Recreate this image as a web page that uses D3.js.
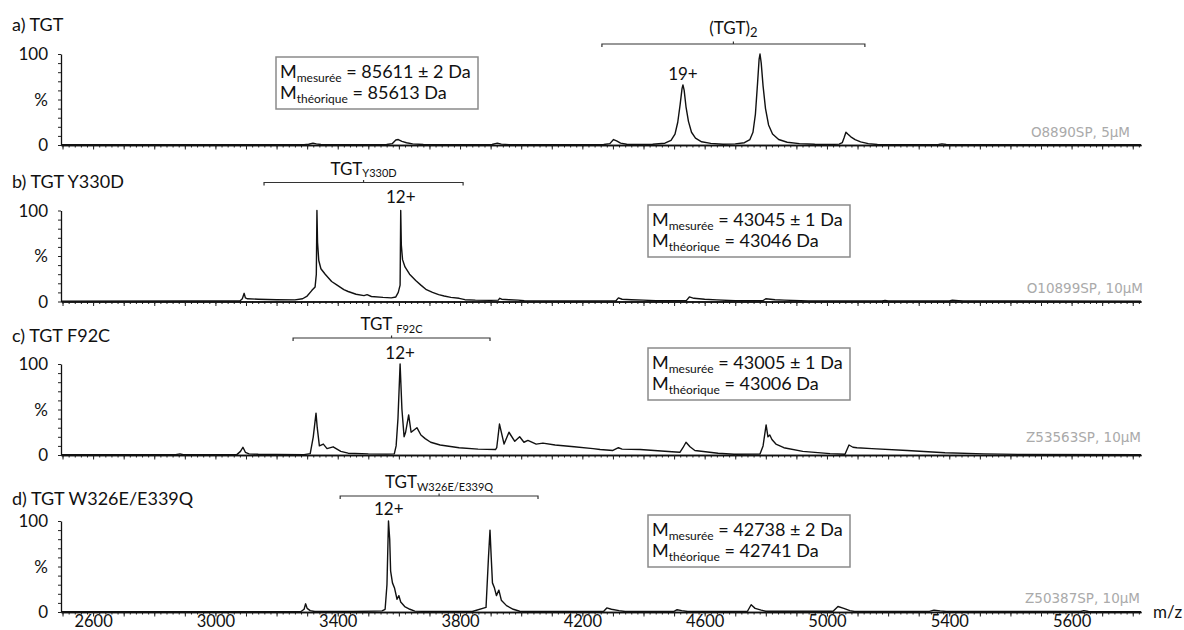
<!DOCTYPE html>
<html><head><meta charset="utf-8">
<script src="https://cdn.jsdelivr.net/npm/d3@7"></script>
<style>body{margin:0;background:#fff}</style>
</head><body><svg id="c" width="1184" height="630"></svg>
<script>
// ---------------- data ----------------
const xTickValues = [2600,3000,3400,3800,4200,4600,5000,5400,5800];
const xTickLabels = ["2600","3000","3400","3800","4200","4600","5000","5400","5600"];
const yTickLabels = ["0","%","100"];
const panelTitles = ["a) TGT","b) TGT Y330D","c) TGT F92C","d) TGT W326E/E339Q"];
const sampleIds = ["O8890SP, 5µM","O10899SP, 10µM","Z53563SP, 10µM","Z50387SP, 10µM"];
const massMeasured = ["85611 ± 2 Da","43045 ± 1 Da","43005 ± 1 Da","42738 ± 2 Da"];
const massTheoretical = ["85613 Da","43046 Da","43006 Da","42741 Da"];
const speciesMain = ["(TGT)","TGT","TGT ","TGT"];
const speciesSub = ["2","Y330D","F92C","W326E/E339Q"];
const chargeLabels = ["19+","12+","12+","12+"];
const chargePeakMz = [4529,3606,3604,3567];
const bracketMz = [[4264,5124],[3159,3810],[3254,3898],[3408,4055]];

const specA = [[2495,0.3],[2700,0.4],[2900,0.3],[3100,0.4],[3290,0.4],[3305,0.8],[3319,2],[3330,1.2],[3345,0.5],[3450,0.4],[3560,0.5],[3578,1.5],[3590,5.5],[3598,6],[3610,4],[3625,2.5],[3645,1.2],[3680,0.6],[3800,0.4],[3905,0.5],[3915,1.5],[3922,2],[3935,1],[3960,0.4],[4150,0.4],[4270,0.5],[4290,1.5],[4302,6],[4312,4.5],[4325,2],[4345,0.8],[4400,0.5],[4430,0.8],[4470,2],[4490,5],[4503,12],[4512,25],[4520,45],[4526,62],[4529,66],[4533,60],[4539,42],[4547,26],[4557,14],[4570,7.5],[4590,3.5],[4620,1.8],[4660,0.9],[4700,1.2],[4730,2.5],[4748,6],[4758,14],[4766,34],[4773,68],[4778,94],[4781,100],[4785,90],[4791,65],[4799,40],[4809,22],[4822,12],[4842,6],[4870,3],[4910,1.5],[4960,0.8],[5010,0.6],[5040,1],[5050,2.5],[5056,8],[5062,14],[5068,12],[5078,9],[5092,6],[5110,3.5],[5135,1.5],[5165,0.6],[5300,0.4],[5365,0.5],[5376,1.2],[5390,0.5],[5600,0.4],[5800,0.3],[6027,0.3]];

const specB = [[2495,0.4],[2900,0.5],[3080,0.6],[3088,3],[3094,9],[3098,4],[3105,3],[3140,2.5],[3200,2],[3260,1.8],[3285,3],[3300,6],[3315,12],[3326,16],[3330,30],[3332,100],[3334,65],[3338,45],[3345,36],[3359,30],[3380,22],[3398,18],[3420,13],[3434,11],[3460,8],[3486,6.5],[3496,7.5],[3510,5.5],[3548,4.5],[3575,4],[3590,5],[3598,10],[3604,18],[3606,100],[3608,62],[3612,46],[3620,38],[3635,30],[3655,23],[3672,18],[3690,13],[3710,10],[3730,7.5],[3748,6],[3770,4.5],[3797,3.5],[3816,2],[3850,1.5],[3900,1.2],[3925,1.5],[3930,3.5],[3936,2.5],[3960,2],[3990,1.5],[4010,0.8],[4150,0.6],[4310,0.8],[4318,4],[4330,2.5],[4360,2],[4400,1.5],[4440,0.8],[4540,1],[4550,5],[4565,3.5],[4600,2.5],[4640,1.8],[4700,0.8],[4790,0.8],[4800,3],[4830,2],[4860,1.5],[4940,0.6],[5180,0.5],[5190,1.2],[5200,0.5],[5400,0.6],[5410,1.5],[5430,1],[5445,0.5],[6027,0.4]];

const specC = [[2495,0.3],[2870,0.3],[2884,1.2],[2895,0.3],[3070,0.4],[3082,4],[3090,8.5],[3098,3],[3110,1.2],[3140,0.8],[3200,0.5],[3290,0.4],[3310,1.5],[3320,20],[3329,46],[3333,30],[3340,10],[3353,12],[3365,7],[3385,9],[3410,4],[3434,2],[3500,1.2],[3560,1],[3585,1.2],[3591,10],[3597,40],[3604,100],[3610,50],[3617,20],[3622,25],[3632,44],[3640,25],[3659,30],[3672,22],[3686,18],[3704,14],[3735,11],[3797,8],[3859,6.5],[3916,6],[3920,8],[3929,34],[3944,12],[3960,25],[3979,15],[3995,20],[4009,14],[4022,16],[4049,12],[4071,13],[4111,11],[4173,9],[4235,7],[4258,6],[4300,5],[4318,8],[4330,6.5],[4389,6],[4493,3.5],[4519,3],[4529,8],[4539,14],[4552,9],[4568,5],[4644,2],[4696,0.8],[4781,1],[4791,10],[4801,33],[4807,20],[4813,22],[4820,17],[4833,12],[4859,8],[4921,4],[5010,1.5],[5059,0.8],[5072,11],[5085,8.5],[5098,8],[5147,7],[5262,5],[5386,2.5],[5513,1.2],[5638,0.6],[6027,0.4]];

const specD = [[2495,0.4],[3200,0.4],[3280,0.5],[3290,3],[3295,9],[3300,4],[3310,1.5],[3325,0.5],[3450,0.5],[3520,1],[3545,1.2],[3555,3],[3561,30],[3566,100],[3570,80],[3573,45],[3579,32],[3586,26],[3594,14],[3600,18],[3606,11],[3619,6],[3636,3],[3652,1],[3700,0.5],[3840,0.6],[3885,5],[3893,60],[3898,90],[3902,60],[3906,32],[3912,27],[3919,18],[3927,24],[3935,13],[3952,7],[3974,3],[3995,0.8],[4100,0.6],[4270,0.8],[4280,4.5],[4295,3],[4320,1.5],[4340,0.6],[4500,0.6],[4510,2.5],[4525,1.5],[4545,0.6],[4740,0.8],[4752,8],[4765,4],[4785,2],[4800,0.8],[5020,0.8],[5036,6],[5055,4],[5075,1.5],[5090,0.6],[5335,0.7],[5350,2],[5370,1.2],[5390,0.6],[5830,0.6],[5840,1.5],[5855,0.6],[6027,0.4]];

const spectra = [specA, specB, specC, specD];

// ---------------- layout ----------------
const svg = d3.select("#c");
const x = d3.scaleLinear().domain([2495, 6027]).range([61, 1141]);
const baselines = [145, 301.5, 455, 612];
const plotH = 91;
const titleY = [31, 188, 342, 505];
const boxes = [[276,57],[648,205],[648,348],[648,515]];
const idPos = [[1130,137],[1143,293],[1141,442],[1140,603]];
const bracketY = [44, 182.5, 338, 496];
const chargeY = [80, 203, 359, 515];
const FONT = "Lato, 'Open Sans', sans-serif";
const minor = d3.range(2500, 6027, 20);
const major = d3.range(2500, 6027, 100);

spectra.forEach((spec, i) => {
  const base = baselines[i];
  const y = d3.scaleLinear().domain([0, 100]).range([base, base - plotH]);
  const g = svg.append("g");

  // x axis ticks
  const ax1 = g.append("g").attr("transform", `translate(0,${base})`)
    .call(d3.axisBottom(x).tickValues(minor).tickSize(2.5).tickFormat("").tickSizeOuter(0));
  const ax2 = g.append("g").attr("transform", `translate(0,${base})`)
    .call(d3.axisBottom(x).tickValues(major).tickSize(4.5).tickFormat("").tickSizeOuter(0));
  [ax1, ax2].forEach(a => {
    a.select(".domain").attr("stroke", "#111").attr("stroke-width", 1.3);
    a.selectAll(".tick line").attr("stroke", "#222").attr("stroke-width", 1);
  });
  // y axis
  const ay = g.append("g").attr("transform", `translate(61,0)`)
    .call(d3.axisLeft(y).tickValues(d3.range(0, 101, 10)).tickSize(3).tickFormat("").tickSizeOuter(0));
  ay.select(".domain").attr("stroke", "#111").attr("stroke-width", 1.3);
  ay.selectAll(".tick line").attr("stroke", "#222").attr("stroke-width", 1);

  // y labels
  [0, 50, 100].forEach((v, k) => {
    g.append("text").attr("x", 48).attr("y", y(v) + 6)
      .attr("text-anchor", "end").attr("font-family", FONT).attr("font-size", 17)
      .attr("fill", "#111").text(yTickLabels[k]);
  });

  // spectrum
  g.append("path").datum(spec)
    .attr("d", d3.line().x(d => x(d[0])).y(d => y(d[1])))
    .attr("fill", "none").attr("stroke", "#111").attr("stroke-width", 1.4)
    .attr("stroke-linejoin", "round");

  // title
  g.append("text").attr("x", 12).attr("y", titleY[i])
    .attr("font-family", FONT).attr("font-size", 18).attr("fill", "#111").text(panelTitles[i]);

  // sample id
  g.append("text").attr("x", idPos[i][0]).attr("y", idPos[i][1])
    .attr("text-anchor", "end").attr("font-family", "'DejaVu Sans', Verdana, sans-serif")
    .attr("font-size", 13.5).attr("fill", "#aaaaaa").text(sampleIds[i]);

  // bracket
  const bx0 = x(bracketMz[i][0]), bx1 = x(bracketMz[i][1]), by = bracketY[i];
  const bm = (bx0 + bx1) / 2;
  g.append("path")
    .attr("d", `M${bx0},${by + 3}V${by}H${bx1}V${by + 3}M${bm},${by}V${by - 2.5}`)
    .attr("fill", "none").attr("stroke", "#333").attr("stroke-width", 1.2);
  const st = g.append("text").attr("y", by - (i === 0 ? 10 : 8))
    .attr("font-family", FONT).attr("fill", "#111");
  st.append("tspan").attr("font-size", 17).text(speciesMain[i]);
  st.append("tspan").attr("font-size", i === 0 ? 13 : 11).attr("dy", i === 0 ? 3 : 2.5).text(speciesSub[i]);
  const sw = st.node().getComputedTextLength();
  st.attr("x", bm - sw / 2);

  // charge label
  g.append("text").attr("x", x(chargePeakMz[i])).attr("y", chargeY[i])
    .attr("text-anchor", "middle").attr("font-family", FONT).attr("font-size", 17)
    .attr("fill", "#111").text(chargeLabels[i]);

  // mass box
  const [bx, byy] = boxes[i];
  g.append("rect").attr("x", bx).attr("y", byy).attr("width", 202).attr("height", 52)
    .attr("fill", "#fff").attr("stroke", "#8a8a8a").attr("stroke-width", 1.5);
  const t1 = g.append("text").attr("x", bx + 4).attr("y", byy + 21).attr("font-family", FONT).attr("fill", "#111");
  t1.append("tspan").attr("font-size", 18).text("M");
  t1.append("tspan").attr("font-size", 12).attr("dy", 4).text("mesurée");
  t1.append("tspan").attr("font-size", 18).attr("dy", -4).text(" = " + massMeasured[i]);
  const t2 = g.append("text").attr("x", bx + 4).attr("y", byy + 42).attr("font-family", FONT).attr("fill", "#111");
  t2.append("tspan").attr("font-size", 18).text("M");
  t2.append("tspan").attr("font-size", 12).attr("dy", 4).text("théorique");
  t2.append("tspan").attr("font-size", 18).attr("dy", -4).text(" = " + massTheoretical[i]);

  // x tick labels on last panel
  if (i === 3) {
    const al = g.append("g").attr("transform", `translate(0,${base})`)
      .call(d3.axisBottom(x).tickValues(xTickValues).tickSize(0)
        .tickFormat((d, k) => xTickLabels[k]));
    al.select(".domain").remove();
    al.selectAll("text").attr("font-family", FONT).attr("font-size", 16.5)
      .attr("fill", "#111").attr("dy", 0).attr("y", 15);
    g.append("text").attr("x", 1153).attr("y", 618).attr("font-family", FONT)
      .attr("font-size", 17).attr("fill", "#111").text("m/z");
  }
});
</script>
</body></html>
